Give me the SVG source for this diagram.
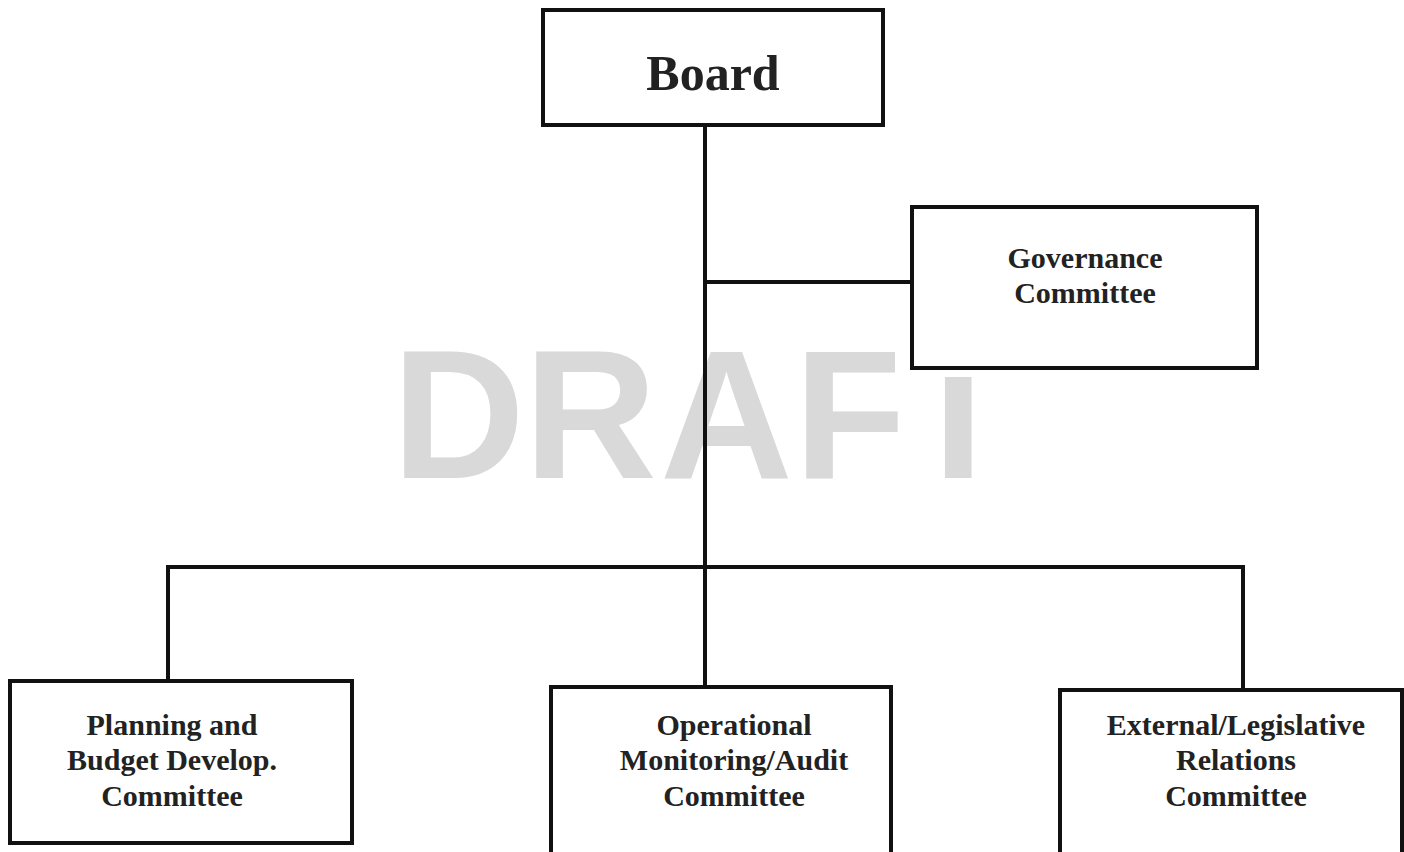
<svg xmlns="http://www.w3.org/2000/svg" width="1404" height="852" viewBox="0 0 1404 852">
<style>
.box{fill:#fff;stroke:#111;stroke-width:4}
.ln{fill:none;stroke:#111;stroke-width:4;stroke-linejoin:miter}
.lbl{font-family:"Liberation Serif","Times New Roman",serif;font-weight:bold;fill:#222;text-anchor:middle;font-size:30px}
.wm{font-family:"Liberation Sans",Arial,sans-serif;font-weight:bold;fill:#d9d9d9;font-size:184px}
</style>
<defs>
<clipPath id="wmclip">
<path clip-rule="evenodd" d="M0 0 H1404 V852 H0 Z M895 330 H1030 V377 H895 Z"/>
</clipPath>
</defs>
<rect width="1404" height="852" fill="#fff"/>
<text class="wm" x="392 524 660 794 902" y="478" clip-path="url(#wmclip)">DRAFT</text>
<g id="connectors">
<path class="ln" d="M705 125 V687"/>
<path class="ln" d="M705 282 H912"/>
<path class="ln" d="M168 680 V567 H1243 V690"/>
</g>
<g id="board">
<rect class="box" x="543" y="10" width="340" height="115"/>
<text class="lbl" x="713" y="90" style="font-size:50px">Board</text>
</g>
<g id="governance">
<rect class="box" x="912" y="207" width="345" height="161"/>
<text class="lbl" x="1085" y="268">Governance</text>
<text class="lbl" x="1085" y="303">Committee</text>
</g>
<g id="planning">
<rect class="box" x="10" y="681" width="342" height="162"/>
<text class="lbl" x="172" y="735">Planning and</text>
<text class="lbl" x="172" y="770">Budget Develop.</text>
<text class="lbl" x="172" y="806">Committee</text>
</g>
<g id="operational">
<rect class="box" x="551" y="687" width="340" height="170"/>
<text class="lbl" x="734" y="735">Operational</text>
<text class="lbl" x="734" y="770">Monitoring/Audit</text>
<text class="lbl" x="734" y="806">Committee</text>
</g>
<g id="external">
<rect class="box" x="1060" y="690" width="342" height="170"/>
<text class="lbl" x="1236" y="735">External/Legislative</text>
<text class="lbl" x="1236" y="770">Relations</text>
<text class="lbl" x="1236" y="806">Committee</text>
</g>
</svg>
